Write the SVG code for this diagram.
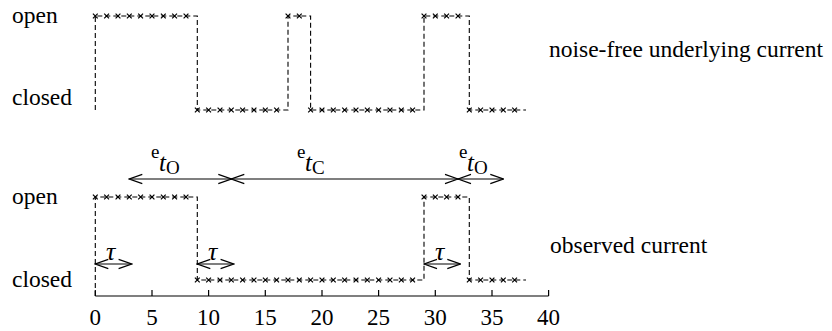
<svg xmlns="http://www.w3.org/2000/svg" xmlns:xlink="http://www.w3.org/1999/xlink" width="832" height="331" viewBox="0 0 832 331">
<style>
text{font-family:"Liberation Serif","Times New Roman",serif;fill:#000}
.lbl{font-size:23.5px}
.tick{font-size:23px;text-anchor:middle}
.sub{font-size:19px}
.it{font-size:25px;font-style:italic}
.tau{font-size:26px;font-style:italic}
.trace{fill:none;stroke:#000;stroke-width:1.1;stroke-dasharray:5,3}
.pt{fill:none;stroke:#000;stroke-width:1.2}
.axis{fill:none;stroke:#000;stroke-width:1.2}
.arr{fill:none;stroke:#000;stroke-width:1.2;marker-start:url(#ah);marker-end:url(#ah)}
</style>
<defs>
<path id="x" class="pt" d="M-2.4,-2.4L2.4,2.4M-2.4,2.4L2.4,-2.4"/>
<marker id="ah" viewBox="-14 -6 15 12" refX="0" refY="0" markerWidth="15" markerHeight="12" markerUnits="userSpaceOnUse" orient="auto-start-reverse">
<path d="M-13,-4.6L0,0L-13,4.6" fill="none" stroke="#000" stroke-width="1.2"/>
</marker>
</defs>
<g id="labels">
<text class="lbl" x="12" y="23">open</text>
<text class="lbl" x="12" y="105">closed</text>
<text class="lbl" x="12" y="204">open</text>
<text class="lbl" x="12" y="287">closed</text>
<text class="lbl" x="549" y="57">noise-free underlying current</text>
<text class="lbl" x="550" y="253">observed current</text>
</g>
<g id="axis">
<path class="axis" d="M95.3,296H548.6M95.3,296v-6M152,296v-6M208.6,296v-6M265.3,296v-6M322,296v-6M378.6,296v-6M435.3,296v-6M492,296v-6M548.6,296v-6"/>
<text class="tick" x="95.3" y="325">0</text>
<text class="tick" x="152" y="325">5</text>
<text class="tick" x="208.6" y="325">10</text>
<text class="tick" x="265.3" y="325">15</text>
<text class="tick" x="322" y="325">20</text>
<text class="tick" x="378.6" y="325">25</text>
<text class="tick" x="435.3" y="325">30</text>
<text class="tick" x="492" y="325">35</text>
<text class="tick" x="548.6" y="325">40</text>
</g>
<g id="top-trace">
<path class="trace" d="M95.3,110V16H197.3V110H288V16H310.6V110H424V16H469.3V110H526"/>
<use xlink:href="#x" x="95.3" y="16"/><use xlink:href="#x" x="106.6" y="16"/><use xlink:href="#x" x="118" y="16"/><use xlink:href="#x" x="129.3" y="16"/><use xlink:href="#x" x="140.6" y="16"/><use xlink:href="#x" x="152" y="16"/><use xlink:href="#x" x="163.3" y="16"/><use xlink:href="#x" x="174.6" y="16"/><use xlink:href="#x" x="186" y="16"/>
<use xlink:href="#x" x="197.3" y="110"/><use xlink:href="#x" x="208.6" y="110"/><use xlink:href="#x" x="220" y="110"/><use xlink:href="#x" x="231.3" y="110"/><use xlink:href="#x" x="242.6" y="110"/><use xlink:href="#x" x="254" y="110"/><use xlink:href="#x" x="265.3" y="110"/><use xlink:href="#x" x="276.6" y="110"/>
<use xlink:href="#x" x="288" y="16"/><use xlink:href="#x" x="299.3" y="16"/>
<use xlink:href="#x" x="310.6" y="110"/><use xlink:href="#x" x="322" y="110"/><use xlink:href="#x" x="333.3" y="110"/><use xlink:href="#x" x="344.6" y="110"/><use xlink:href="#x" x="356" y="110"/><use xlink:href="#x" x="367.3" y="110"/><use xlink:href="#x" x="378.6" y="110"/><use xlink:href="#x" x="390" y="110"/><use xlink:href="#x" x="401.3" y="110"/><use xlink:href="#x" x="412.6" y="110"/>
<use xlink:href="#x" x="424" y="16"/><use xlink:href="#x" x="435.3" y="16"/><use xlink:href="#x" x="446.6" y="16"/><use xlink:href="#x" x="458" y="16"/>
<use xlink:href="#x" x="469.3" y="110"/><use xlink:href="#x" x="480.6" y="110"/><use xlink:href="#x" x="492" y="110"/><use xlink:href="#x" x="503.3" y="110"/><use xlink:href="#x" x="514.6" y="110"/>
</g>
<g id="bottom-trace">
<path class="trace" d="M95.3,296V197H197.3V280H424V197H469.3V280H526"/>
<use xlink:href="#x" x="95.3" y="197"/><use xlink:href="#x" x="106.6" y="197"/><use xlink:href="#x" x="118" y="197"/><use xlink:href="#x" x="129.3" y="197"/><use xlink:href="#x" x="140.6" y="197"/><use xlink:href="#x" x="152" y="197"/><use xlink:href="#x" x="163.3" y="197"/><use xlink:href="#x" x="174.6" y="197"/><use xlink:href="#x" x="186" y="197"/>
<use xlink:href="#x" x="197.3" y="280"/><use xlink:href="#x" x="208.6" y="280"/><use xlink:href="#x" x="220" y="280"/><use xlink:href="#x" x="231.3" y="280"/><use xlink:href="#x" x="242.6" y="280"/><use xlink:href="#x" x="254" y="280"/><use xlink:href="#x" x="265.3" y="280"/><use xlink:href="#x" x="276.6" y="280"/><use xlink:href="#x" x="288" y="280"/><use xlink:href="#x" x="299.3" y="280"/><use xlink:href="#x" x="310.6" y="280"/><use xlink:href="#x" x="322" y="280"/><use xlink:href="#x" x="333.3" y="280"/><use xlink:href="#x" x="344.6" y="280"/><use xlink:href="#x" x="356" y="280"/><use xlink:href="#x" x="367.3" y="280"/><use xlink:href="#x" x="378.6" y="280"/><use xlink:href="#x" x="390" y="280"/><use xlink:href="#x" x="401.3" y="280"/><use xlink:href="#x" x="412.6" y="280"/>
<use xlink:href="#x" x="424" y="197"/><use xlink:href="#x" x="435.3" y="197"/><use xlink:href="#x" x="446.6" y="197"/><use xlink:href="#x" x="458" y="197"/>
<use xlink:href="#x" x="469.3" y="280"/><use xlink:href="#x" x="480.6" y="280"/><use xlink:href="#x" x="492" y="280"/><use xlink:href="#x" x="503.3" y="280"/><use xlink:href="#x" x="514.6" y="280"/>
</g>
<g id="connectors">
<line class="arr" x1="129.3" y1="179" x2="231.3" y2="179"/>
<line class="arr" x1="231.3" y1="179" x2="458" y2="179"/>
<line class="arr" x1="458" y1="179" x2="503.3" y2="179"/>
<line class="arr" x1="95.3" y1="264" x2="131.6" y2="264"/>
<line class="arr" x1="197.3" y1="264" x2="233.6" y2="264"/>
<line class="arr" x1="424" y1="264" x2="460.3" y2="264"/>
</g>
<g id="annotations">
<text class="sub" x="151" y="158">e</text><text class="it" x="159" y="171">t</text><text class="sub" x="166" y="174">O</text>
<text class="sub" x="297" y="158">e</text><text class="it" x="305" y="171">t</text><text class="sub" x="312" y="174">C</text>
<text class="sub" x="459" y="158">e</text><text class="it" x="467" y="171">t</text><text class="sub" x="474" y="174">O</text>
<text class="tau" x="106" y="260">τ</text>
<text class="tau" x="208" y="260">τ</text>
<text class="tau" x="435" y="260">τ</text>
</g>
</svg>
